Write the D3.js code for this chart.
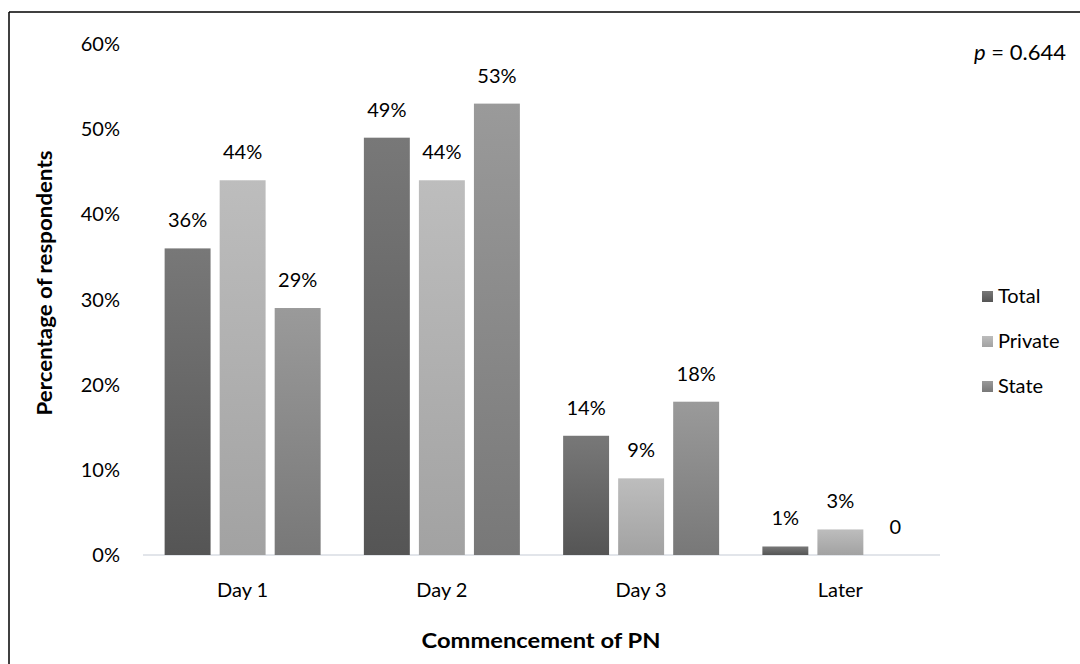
<!DOCTYPE html>
<html><head><meta charset="utf-8">
<script src="https://cdn.jsdelivr.net/npm/d3@7"></script>
<style>
body{margin:0;background:#fff;}
svg{display:block;font-family:Lato,"Open Sans",sans-serif;}
</style></head>
<body>
<svg id="c" width="1080" height="664"></svg>
<script>
const categories = ["Day 1","Day 2","Day 3","Later"];
const seriesNames = ["Total","Private","State"];
const totalVals = [36,49,14,1];
const privateVals = [44,44,9,3];
const stateVals = [29,53,18,0];
const valueLabels = [["36%","44%","29%"],["49%","44%","53%"],["14%","9%","18%"],["1%","3%","0"]];
const yTicks = [0,10,20,30,40,50,60];
const colors = {Total:["#787878","#555555"],Private:["#bdbdbd","#a2a2a2"],State:["#9a9a9a","#787878"]};

const svg = d3.select("#c");
const W=1080,H=664;
const FS=20;
svg.append("line").attr("x1",9).attr("y1",12).attr("x2",W).attr("y2",12).attr("stroke","#000").attr("stroke-width",1.5);
svg.append("line").attr("x1",9).attr("y1",12).attr("x2",9).attr("y2",H).attr("stroke","#000").attr("stroke-width",1.5);

const defs = svg.append("defs");
seriesNames.forEach(s=>{
  const g = defs.append("linearGradient").attr("id","g"+s).attr("x1",0).attr("y1",0).attr("x2",0).attr("y2",1);
  g.append("stop").attr("offset","0%").attr("stop-color",colors[s][0]);
  g.append("stop").attr("offset","100%").attr("stop-color",colors[s][1]);
});

const x0 = d3.scaleBand().domain(categories).range([143,940]).paddingInner(0).paddingOuter(0);
const x1 = d3.scaleBand().domain(seriesNames).range([0,156]).paddingInner(0.165).paddingOuter(0);
const y = d3.scaleLinear().domain([0,60]).range([555,44]);

svg.append("g").selectAll("text").data(yTicks).join("text")
  .attr("x",120).attr("y",d=>y(d)).attr("dy","0.35em").attr("text-anchor","end")
  .attr("font-size",FS).attr("fill","#000").text(d=>d+"%");

svg.append("line").attr("x1",143).attr("x2",940).attr("y1",y(0)).attr("y2",y(0)).attr("stroke","#d9dce3").attr("stroke-width",1.5);

const data = categories.map((c,i)=>({cat:c,vals:[totalVals[i],privateVals[i],stateVals[i]],labels:valueLabels[i]}));
const grp = svg.append("g").selectAll("g").data(data).join("g")
  .attr("transform",d=>`translate(${x0(d.cat)+(x0.bandwidth()-156)/2},0)`);
grp.selectAll("rect").data(d=>d.vals.map((v,j)=>({s:seriesNames[j],v}))).join("rect")
  .attr("x",d=>x1(d.s)).attr("width",x1.bandwidth())
  .attr("y",d=>y(d.v)).attr("height",d=>y(0)-y(d.v))
  .attr("fill",d=>`url(#g${d.s})`);
grp.selectAll("text").data(d=>d.vals.map((v,j)=>({s:seriesNames[j],v,l:d.labels[j]}))).join("text")
  .attr("x",d=>x1(d.s)+x1.bandwidth()/2).attr("y",d=>y(d.v)-21)
  .attr("text-anchor","middle").attr("font-size",FS).attr("fill","#000").text(d=>d.l);

svg.append("g").selectAll("text").data(categories).join("text")
  .attr("x",d=>x0(d)+x0.bandwidth()/2).attr("y",597).attr("text-anchor","middle")
  .attr("font-size",FS).attr("fill","#000").text(d=>d);

svg.append("text").attr("x",541).attr("y",648).attr("text-anchor","middle")
  .attr("font-size",20).attr("font-weight","bold").attr("textLength",239).attr("lengthAdjust","spacingAndGlyphs").text("Commencement of PN");
svg.append("text").attr("transform","translate(52,283) rotate(-90)").attr("text-anchor","middle")
  .attr("font-size",20).attr("font-weight","bold").attr("textLength",265).attr("lengthAdjust","spacingAndGlyphs").text("Percentage of respondents");

const pt = svg.append("text").attr("x",1066).attr("y",60).attr("text-anchor","end").attr("font-size",22);
pt.append("tspan").attr("font-style","italic").text("p");
pt.append("tspan").text(" = 0.644");

const lg = svg.append("g").selectAll("g").data(seriesNames).join("g")
  .attr("transform",(d,i)=>`translate(982,${296+i*45})`);
lg.append("rect").attr("x",0).attr("y",-5).attr("width",11).attr("height",11).attr("fill",d=>`url(#g${d})`);
lg.append("text").attr("x",16).attr("y",0).attr("dy","0.35em").attr("font-size",FS).text(d=>d);
</script>
</body></html>
